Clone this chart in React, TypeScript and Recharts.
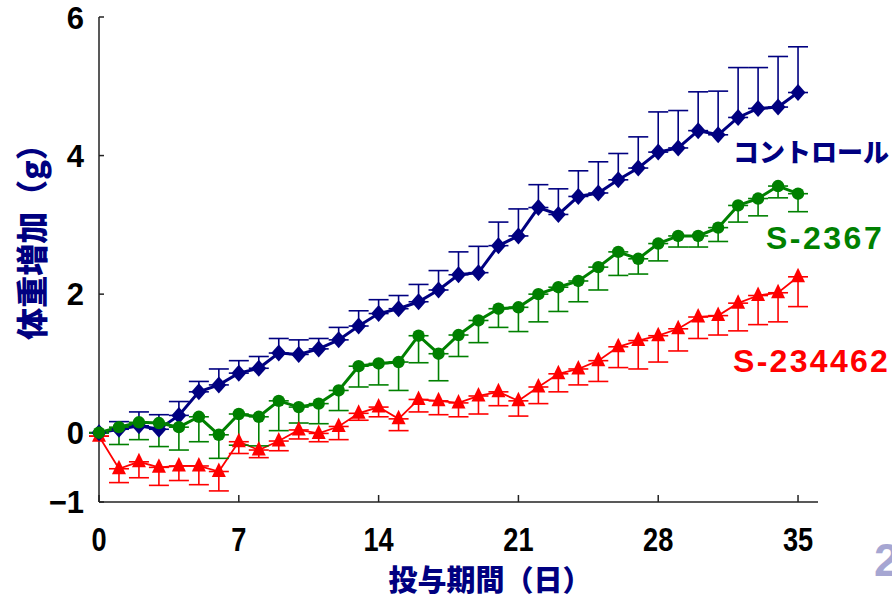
import React from 'react';
import { LineChart, Line, XAxis, YAxis, ErrorBar } from 'recharts';

const days = [0, 1, 2, 3, 4, 5, 6, 7, 8, 9, 10, 11, 12, 13, 14, 15, 16, 17, 18, 19, 20, 21, 22, 23, 24, 25, 26, 27, 28, 29, 30, 31, 32, 33, 34, 35];

// コントロール (error bars upward)
const controlValues = [0.0, 0.05, 0.1, 0.05, 0.25, 0.59, 0.69, 0.86, 0.93, 1.15, 1.13, 1.21, 1.34, 1.54, 1.72, 1.79, 1.89, 2.06, 2.28, 2.31, 2.7, 2.84, 3.25, 3.15, 3.41, 3.46, 3.65, 3.82, 4.05, 4.11, 4.36, 4.3, 4.55, 4.68, 4.7, 4.91];
const controlErrors = [0.0, 0.11, 0.2, 0.21, 0.2, 0.15, 0.23, 0.18, 0.17, 0.21, 0.21, 0.15, 0.18, 0.22, 0.2, 0.19, 0.25, 0.28, 0.33, 0.38, 0.34, 0.39, 0.33, 0.37, 0.37, 0.45, 0.38, 0.45, 0.58, 0.54, 0.56, 0.63, 0.72, 0.59, 0.73, 0.66];

// S-2367 (error bars downward)
const s2367Values = [0.0, 0.08, 0.15, 0.14, 0.08, 0.23, -0.03, 0.27, 0.23, 0.46, 0.37, 0.42, 0.61, 0.96, 1.0, 1.02, 1.4, 1.14, 1.41, 1.62, 1.79, 1.81, 2.0, 2.1, 2.19, 2.39, 2.61, 2.51, 2.73, 2.84, 2.84, 2.96, 3.28, 3.38, 3.56, 3.45];
const s2367Errors = [0.0, 0.25, 0.25, 0.34, 0.33, 0.36, 0.34, 0.45, 0.42, 0.43, 0.23, 0.29, 0.29, 0.3, 0.31, 0.41, 0.39, 0.39, 0.31, 0.32, 0.27, 0.35, 0.4, 0.35, 0.3, 0.33, 0.34, 0.22, 0.25, 0.16, 0.16, 0.2, 0.24, 0.25, 0.17, 0.26];

// S-234462 (error bars downward)
const s234462Values = [-0.05, -0.52, -0.42, -0.5, -0.48, -0.48, -0.56, -0.13, -0.25, -0.12, 0.04, -0.01, 0.09, 0.28, 0.37, 0.2, 0.48, 0.46, 0.43, 0.53, 0.59, 0.46, 0.66, 0.85, 0.92, 1.04, 1.24, 1.33, 1.4, 1.5, 1.67, 1.69, 1.87, 1.98, 2.02, 2.25];
const s234462Errors = [0.0, 0.2, 0.23, 0.26, 0.21, 0.27, 0.28, 0.17, 0.11, 0.14, 0.13, 0.12, 0.19, 0.1, 0.14, 0.17, 0.18, 0.2, 0.2, 0.26, 0.2, 0.22, 0.24, 0.26, 0.23, 0.3, 0.3, 0.41, 0.38, 0.32, 0.31, 0.28, 0.4, 0.42, 0.42, 0.43];

const xTicks = [0, 7, 14, 21, 28, 35];
const yTicks = [-1, 0, 2, 4, 6];

const NAVY = '#000080';
const GREEN = '#008000';
const RED = '#ff0000';

const data = days.map((day, i) => ({
  day,
  control: controlValues[i],
  controlErr: [0, controlErrors[i]],
  s2367: s2367Values[i],
  s2367Err: [s2367Errors[i], 0],
  s234462: s234462Values[i],
  s234462Err: [s234462Errors[i], 0],
}));

const diamondDot = (props: any) => {
  const { cx, cy, index } = props;
  return (
    <polygon
      key={`dia-${index}`}
      points={`${cx},${cy - 8.5} ${cx + 7.5},${cy} ${cx},${cy + 8.5} ${cx - 7.5},${cy}`}
      fill={NAVY}
    />
  );
};

const circleDot = (props: any) => {
  const { cx, cy, index } = props;
  return <circle key={`cir-${index}`} cx={cx} cy={cy} r={6.2} fill={GREEN} />;
};

const triangleDot = (props: any) => {
  const { cx, cy, index } = props;
  return (
    <polygon
      key={`tri-${index}`}
      points={`${cx},${cy - 9} ${cx + 7},${cy + 5.5} ${cx - 7},${cy + 5.5}`}
      fill={RED}
    />
  );
};

// narrow bold day labels under the x axis
const XTick = (props: any) => {
  const { x, y, payload } = props;
  return (
    <text
      transform={`translate(${x},${y}) scale(0.8,1)`}
      textAnchor="middle"
      dy="0.72em"
      fill="#000"
      fontSize={34}
      fontWeight="bold"
      fontFamily='"Liberation Sans", Arial, sans-serif'
    >
      {payload.value}
    </text>
  );
};

const label = (color: string, size: number, extra: React.CSSProperties = {}): React.CSSProperties => ({
  position: 'absolute',
  color,
  fontSize: size,
  fontWeight: 'bold',
  whiteSpace: 'nowrap',
  lineHeight: 1,
  ...extra,
});

export default function App() {
  return (
    <div style={{ position: 'absolute', left: 0, top: 0, width: 892, height: 598, background: '#fff', overflow: 'hidden' }}>
      <LineChart width={892} height={598} data={data} margin={{ top: 17, right: 74, bottom: 36, left: 39 }}>
        <XAxis
          dataKey="day"
          type="number"
          domain={[0, 36]}
          ticks={xTicks}
          height={60}
          stroke="#222"
          strokeWidth={1.5}
          tickSize={-7}
          tickMargin={32}
          tick={<XTick />}
        />
        <YAxis
          type="number"
          domain={[-1, 6]}
          ticks={yTicks}
          width={60}
          stroke="#222"
          strokeWidth={1.5}
          tickSize={-5}
          tickMargin={20}
          tickFormatter={(v: number) => (v < 0 ? `−${Math.abs(v)}` : `${v}`)}
          tick={{ fill: '#000', fontSize: 31, fontWeight: 'bold', fontFamily: '"Liberation Sans", Arial, sans-serif' }}
        />
        <Line
          dataKey="s234462"
          stroke={RED}
          strokeWidth={1.8}
          dot={triangleDot}
          activeDot={false}
          isAnimationActive={false}
        >
          <ErrorBar dataKey="s234462Err" stroke={RED} strokeWidth={1.6} width={10} />
        </Line>
        <Line
          dataKey="control"
          stroke={NAVY}
          strokeWidth={3}
          dot={diamondDot}
          activeDot={false}
          isAnimationActive={false}
        >
          <ErrorBar dataKey="controlErr" stroke={NAVY} strokeWidth={1.6} width={10} />
        </Line>
        <Line
          dataKey="s2367"
          stroke={GREEN}
          strokeWidth={3}
          dot={circleDot}
          activeDot={false}
          isAnimationActive={false}
        >
          <ErrorBar dataKey="s2367Err" stroke={GREEN} strokeWidth={1.6} width={10} />
        </Line>
      </LineChart>

      <div
        style={label(NAVY, 32, {
          left: 30,
          top: 234,
          transform: 'translate(-50%, -50%) rotate(-90deg)',
          fontFamily: '"Noto Sans CJK JP", sans-serif',
          fontWeight: 900,
        })}
      >
        体重増加（g）
      </div>
      <div
        style={label(NAVY, 29, {
          left: 490,
          top: 578,
          transform: 'translate(-50%, -50%)',
          fontFamily: '"Noto Sans CJK JP", sans-serif',
          fontWeight: 900,
        })}
      >
        投与期間（日）
      </div>

      <div style={label(NAVY, 26, { left: 733, top: 138, fontFamily: '"Noto Sans CJK JP", sans-serif', fontWeight: 900 })}>
        コントロール
      </div>
      <div style={label(GREEN, 32, { left: 766, top: 222, letterSpacing: 2.5, fontFamily: '"Liberation Sans", Arial, sans-serif' })}>
        S-2367
      </div>
      <div style={label(RED, 32, { left: 733, top: 345, letterSpacing: 2.3, fontFamily: '"Liberation Sans", Arial, sans-serif' })}>
        S-234462
      </div>

      <div style={label('#a6a6d2', 46, { left: 874, top: 537, fontFamily: '"Liberation Sans", Arial, sans-serif' })}>
        2
      </div>
    </div>
  );
}
